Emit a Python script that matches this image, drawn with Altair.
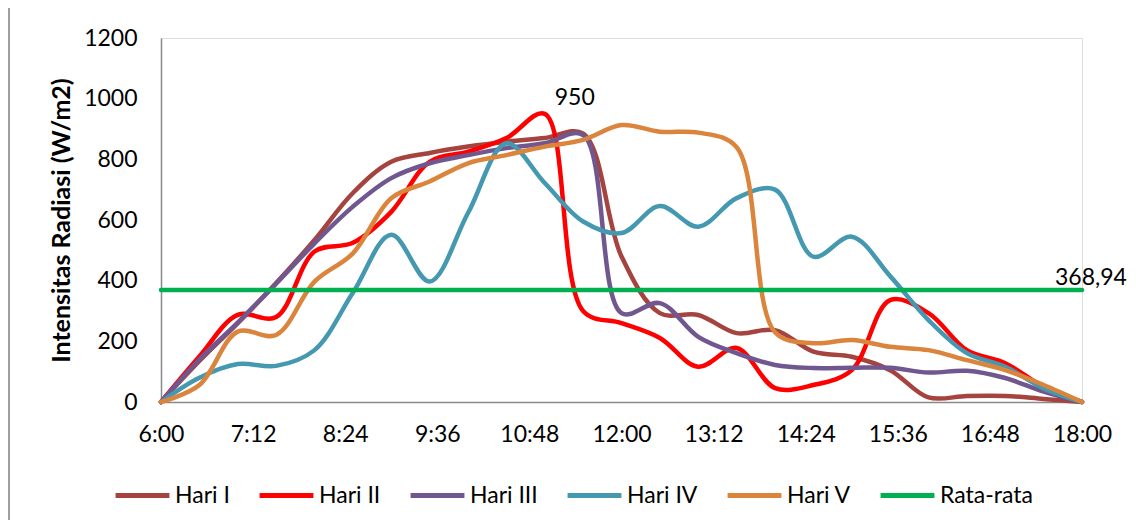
import altair as alt
import pandas as pd

times = ["6:00", "6:30", "7:00", "7:30", "8:00", "8:30", "9:00", "9:30", "10:00",
         "10:30", "11:00", "11:30", "12:00", "12:30", "13:00", "13:30", "14:00",
         "14:30", "15:00", "15:30", "16:00", "16:30", "17:00", "17:30", "18:00"]

hari_1 = [0, 135, 260, 392, 534, 689, 792, 821, 842, 858, 870, 885, 480, 293,
          287, 227, 237, 166, 149, 105, 15, 20, 20, 10, 0]
hari_2 = [0, 150, 287, 280, 496, 525, 627, 792, 825, 870, 950, 300, 260, 211,
          116, 178, 46, 56, 105, 336, 293, 171, 128, 50, 0]
hari_3 = [0, 140, 262, 390, 523, 644, 738, 787, 814, 837, 853, 880, 293, 326,
          215, 161, 122, 112, 113, 113, 97, 103, 79, 34, 0]
hari_4 = [0, 80, 125, 119, 171, 360, 551, 397, 623, 853, 722, 595, 557, 646,
          578, 672, 700, 479, 545, 415, 270, 161, 116, 45, 0]
hari_5 = [0, 56, 232, 221, 397, 490, 672, 727, 787, 814, 842, 864, 913, 891,
          888, 840, 230, 194, 204, 182, 171, 138, 105, 56, 0]
rata_rata = 368.94

series_names = ["Hari I", "Hari II", "Hari III", "Hari IV", "Hari V", "Rata-rata"]
series_colors = ["#A5443F", "#FF0000", "#70578F", "#4499B1", "#DB843C", "#00B050"]
x_tick_labels = ["6:00", "7:12", "8:24", "9:36", "10:48", "12:00", "13:12",
                 "14:24", "15:36", "16:48", "18:00"]
y_ticks = [0, 200, 400, 600, 800, 1000, 1200]

peak_label = "950"
peak_time = "11:00"
peak_value = 950
avg_label = "368,94"

FONT = "Lato"
FS = 23


def to_min(t):
    h, m = t.split(":")
    return int(h) * 60 + int(m)


rows = []
for name, vals in zip(series_names[:5], [hari_1, hari_2, hari_3, hari_4, hari_5]):
    for t, v in zip(times, vals):
        rows.append({"t": to_min(t), "v": v, "s": name})
df = pd.DataFrame(rows)

avg_df = pd.DataFrame({"t": [to_min(times[0]), to_min(times[-1])],
                       "v": [rata_rata, rata_rata],
                       "s": ["Rata-rata", "Rata-rata"]})

x_scale = alt.Scale(domain=[to_min(times[0]), to_min(times[-1])], nice=False, zero=False)
y_scale = alt.Scale(domain=[0, 1200], nice=False)
color_scale = alt.Scale(domain=series_names, range=series_colors)

label_expr = ("floor(datum.value/60) + ':' + "
              "(round(datum.value%60) < 10 ? '0' : '') + round(datum.value%60)")

x_enc = alt.X("t:Q", scale=x_scale,
              axis=alt.Axis(values=[to_min(t) for t in x_tick_labels], labelExpr=label_expr,
                            title=None, grid=False, ticks=False, labelPadding=21,
                            labelFlush=False, labelOverlap=False,
                            domainColor="#898989", domainWidth=1.5,
                            labelFont=FONT, labelFontSize=FS, labelColor="black"))
y_enc = alt.Y("v:Q", scale=y_scale,
              axis=alt.Axis(values=y_ticks, format="d", title="Intensitas Radiasi (W/m2)",
                            grid=False, ticks=False, labelPadding=24, labelFlush=False,
                            labelOverlap=False, domainColor="#898989",
                            domainWidth=1.5, labelFont=FONT, labelFontSize=FS,
                            labelColor="black", titleFont=FONT, titleFontSize=25,
                            titleFontWeight="bold", titleColor="black", titlePadding=9))
color_enc = alt.Color("s:N", scale=color_scale, sort=series_names,
                      legend=alt.Legend(title=None, orient="none", direction="horizontal",
                                        legendX=-48, legendY=428, symbolType="stroke",
                                        symbolSize=2900, symbolStrokeWidth=5,
                                        labelFont=FONT, labelFontSize=FS, labelColor="black",
                                        labelOffset=3, columnPadding=19, columns=6,
                                        gridAlign="none"))

lines = alt.Chart(df).mark_line(interpolate="catmull-rom", strokeWidth=4.5,
                                strokeCap="round").encode(x=x_enc, y=y_enc, color=color_enc)

avg_line = alt.Chart(avg_df).mark_line(strokeWidth=4.5, strokeCap="round").encode(
    x="t:Q", y="v:Q", color=alt.Color("s:N", scale=color_scale, sort=series_names))

peak_text = alt.Chart(pd.DataFrame({"t": [to_min(peak_time)], "v": [peak_value],
                                    "txt": [peak_label]})).mark_text(
    align="left", baseline="alphabetic", dx=10, dy=-9, font=FONT, fontSize=FS,
    color="black").encode(x="t:Q", y="v:Q", text="txt:N")

avg_text = alt.Chart(pd.DataFrame({"t": [to_min(times[-1])], "v": [rata_rata],
                                   "txt": [avg_label]})).mark_text(
    align="left", baseline="alphabetic", dx=-27, dy=-5, font=FONT, fontSize=FS,
    color="black").encode(x="t:Q", y="v:Q", text="txt:N")

border = alt.Chart(pd.DataFrame({"a": [0]})).mark_rule(color="#7f7f7f", strokeWidth=1.5).encode(
    x=alt.value(-152), y=alt.value(-38), y2=alt.value(490))

chart = alt.layer(lines, avg_line, peak_text, avg_text, border).properties(
    width=921, height=364,
    padding={"left": 153, "top": 30, "right": 46, "bottom": 118},
    autosize="none",
).configure_view(strokeWidth=0).configure(background="white")

chart.save("out.html", embed_options={"renderer": "svg", "actions": False})
